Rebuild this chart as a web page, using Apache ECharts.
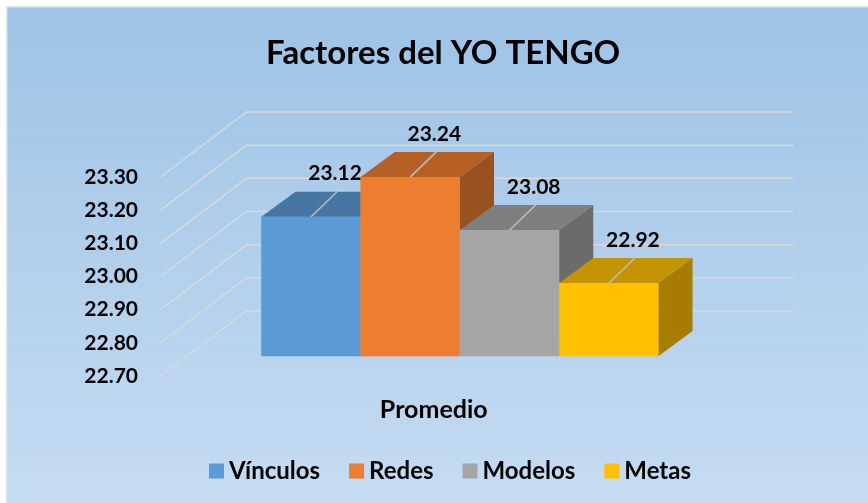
<!DOCTYPE html>
<html>
<head>
<meta charset="utf-8">
<script src="https://cdn.jsdelivr.net/npm/echarts@6/dist/echarts.min.js"></script>
<style>
  html, body { margin: 0; padding: 0; background: #fff; }
  #chart { width: 868px; height: 503px; }
</style>
</head>
<body>
<div id="chart"></div>
<script>
// datos
const categories = ['Promedio']
const seriesNames = ['Vínculos', 'Redes', 'Modelos', 'Metas']
const values = [23.12, 23.24, 23.08, 22.92]
const yTicks = [22.70, 22.80, 22.90, 23.00, 23.10, 23.20, 23.30]

const colors = ['#5B9BD5', '#ED7D31', '#A5A5A5', '#FFC000']
const FONT = 'Lato, "Open Sans", sans-serif'
const yMin = yTicks[0]
const yMax = yTicks[yTicks.length - 1]

// falso 3D (pixeles)
const DEPTH = [34, -25]   // profundidad de la barra
const FRONT = [-26, 20]   // plano frontal del piso (etiquetas)
const BACK = [60, -45]    // pared del fondo
const BAR_SHARE = 0.726   // parte de la categoria ocupada por las barras

function shade(hex, k) {
  const n = parseInt(hex.slice(1), 16)
  const r = Math.min(255, Math.round(((n >> 16) & 255) * k))
  const g = Math.min(255, Math.round(((n >> 8) & 255) * k))
  const b = Math.min(255, Math.round((n & 255) * k))
  return 'rgb(' + r + ',' + g + ',' + b + ')'
}

function gridLineItem(params, api) {
  const cs = params.coordSys
  const p = api.coord([0, api.value(1)])
  const left = cs.x
  const right = cs.x + cs.width
  return {
    type: 'polyline',
    shape: {
      points: [
        [left + FRONT[0], p[1] + FRONT[1]],
        [left + BACK[0], p[1] + BACK[1]],
        [right + BACK[0], p[1] + BACK[1]]
      ]
    },
    style: { stroke: '#d9d9d9', lineWidth: 1.5, fill: null }
  }
}

function barItem(i) {
  return function (params, api) {
    const base = api.coord([api.value(0), yMin])
    const top = api.coord([api.value(0), api.value(1)])
    const catW = api.size([1, 0])[0]
    const w = catW * BAR_SHARE / seriesNames.length
    const x0 = base[0] - catW * BAR_SHARE / 2 + i * w
    const x1 = x0 + w
    const yb = base[1]
    const yt = top[1]
    const dx = DEPTH[0]
    const dy = DEPTH[1]
    const c = colors[i]
    const cx = (x0 + x1) / 2
    return {
      type: 'group',
      children: [
        {
          type: 'rect',
          shape: { x: x0, y: yt, width: w, height: yb - yt },
          style: { fill: c, stroke: shade(c, 1.04), lineWidth: 0.6 }
        },
        {
          type: 'polygon',
          shape: { points: [[x0, yt], [x1, yt], [x1 + dx, yt + dy], [x0 + dx, yt + dy]] },
          style: { fill: shade(c, 0.77) }
        },
        {
          type: 'polygon',
          shape: { points: [[x1, yt], [x1 + dx, yt + dy], [x1 + dx, yb + dy], [x1, yb]] },
          style: { fill: shade(c, 0.65) }
        },
        {
          type: 'line',
          shape: { x1: cx, y1: yt, x2: cx + 26, y2: yt - 25 },
          style: { stroke: '#bfbfbf', lineWidth: 1.5 }
        },
        {
          type: 'text',
          x: cx + 24,
          y: yt - 43,
          style: {
            text: api.value(1).toFixed(2),
            fill: '#000',
            font: 'bold 21px ' + FONT,
            align: 'center',
            verticalAlign: 'middle'
          }
        }
      ]
    }
  }
}

const chart = echarts.init(document.getElementById('chart'))

const series = [{
  name: 'grid',
  type: 'custom',
  xAxisIndex: 0,
  yAxisIndex: 0,
  silent: true,
  z: 1,
  renderItem: gridLineItem,
  data: yTicks.map(v => [0, v])
}]
seriesNames.forEach((name, i) => {
  series.push({
    name: name,
    type: 'custom',
    xAxisIndex: 0,
    yAxisIndex: 0,
    z: 2 + i,
    itemStyle: { color: colors[i] },
    renderItem: barItem(i),
    data: [[0, values[i]]]
  })
})

chart.setOption({
  backgroundColor: '#fff',
  animation: false,
  graphic: [{
    type: 'rect',
    z: -10,
    shape: { x: 7, y: 7, width: 870, height: 500 },
    style: {
      stroke: '#d9d9d9',
      lineWidth: 1.5,
      fill: {
        type: 'linear', x: 0, y: 0, x2: 0, y2: 1,
        colorStops: [
          { offset: 0, color: '#9DC3E6' },
          { offset: 1, color: '#C6DCF1' }
        ]
      }
    }
  }],
  title: {
    text: 'Factores del YO TENGO',
    left: 261,
    top: 32,
    textStyle: { fontFamily: FONT, fontWeight: 'bold', fontSize: 33, color: '#000' }
  },
  legend: {
    data: seriesNames,
    left: 204,
    top: 454,
    icon: 'rect',
    itemWidth: 15,
    itemHeight: 15,
    itemGap: 29,
    textStyle: { fontFamily: FONT, fontWeight: 'bold', fontSize: 24, color: '#000' }
  },
  grid: [
    { left: 186.5, right: 134.5, top: 157, bottom: 147 },
    { left: 160, right: 160.5, top: 177, bottom: 127 }
  ],
  xAxis: [
    { type: 'category', gridIndex: 0, data: categories, show: false },
    {
      type: 'category', gridIndex: 1, data: categories,
      axisLine: { show: false }, axisTick: { show: false },
      axisLabel: { margin: 21, fontFamily: FONT, fontWeight: 'bold', fontSize: 25, color: '#000' }
    }
  ],
  yAxis: [
    { type: 'value', gridIndex: 0, min: yMin, max: yMax, interval: 0.1, show: false },
    {
      type: 'value', gridIndex: 1, min: yMin, max: yMax, interval: 0.1,
      axisLine: { show: false }, axisTick: { show: false }, splitLine: { show: false },
      axisLabel: {
        margin: 22, fontFamily: FONT, fontWeight: 'bold', fontSize: 21, color: '#000',
        formatter: v => v.toFixed(2)
      }
    }
  ],
  series: series
})
</script>
</body>
</html>
